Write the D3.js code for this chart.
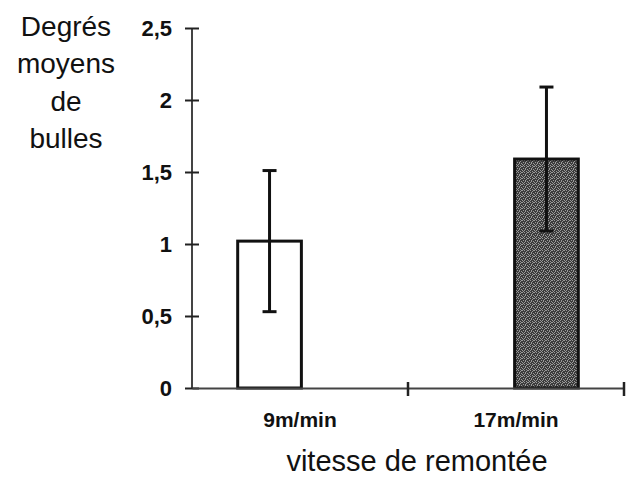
<!DOCTYPE html>
<html>
<head>
<meta charset="utf-8">
<script src="https://cdn.jsdelivr.net/npm/d3@7"></script>
<style>
  body { margin: 0; background: #fff; }
  svg { display: block; }
  text { font-family: "Liberation Sans", Arial, sans-serif; fill: #111; }
</style>
</head>
<body>
<div class="canvas"></div>
<script>
// DATA
const categories = ["9m/min", "17m/min"];
const means = [1.02, 1.59];
const errors = [0.49, 0.5];
const yTicks = [0, 0.5, 1, 1.5, 2, 2.5];
const yTitle = ["Degrés", "moyens", "de", "bulles"];
const xTitle = "vitesse de remontée";

const W = 636, H = 477;
const margins = { top: 28, right: 12, bottom: 89, left: 192 };
const width = W - margins.left - margins.right;
const height = H - margins.top - margins.bottom;

const svg = d3.select(".canvas").append("svg")
  .attr("width", W)
  .attr("height", H);

// grainy fill for the dark bar
const defs = svg.append("defs");
const pat = defs.append("pattern")
  .attr("id", "grain")
  .attr("patternUnits", "userSpaceOnUse")
  .attr("width", 6).attr("height", 6);
pat.append("rect").attr("width", 6).attr("height", 6).attr("fill", "#3c3c3c");
[[0,0],[2,0],[4,1],[1,2],[3,2],[5,3],[0,4],[2,4],[4,5],[1,5],[3,3],[5,0]].forEach(p => {
  pat.append("rect").attr("x", p[0]).attr("y", p[1])
    .attr("width", 1).attr("height", 1).attr("fill", "#9a9a9a");
});

const canvas = svg.append("g")
  .attr("transform", `translate(${margins.left},${margins.top})`);

// SCALES
const xScale = d3.scaleBand().domain(categories).range([0, width]);
const barPos = d3.scalePoint().domain(categories).range([0, width]).padding(0.28);
const barW = barPos.step() * 0.23;
const yScale = d3.scaleLinear().domain([0, 2.5]).range([height, 0]);

// BARS
canvas.selectAll(".bar")
  .data(categories)
  .enter()
  .append("rect")
  .attr("class", "bar")
  .attr("x", d => barPos(d) - barW / 2)
  .attr("y", (d, i) => yScale(means[i]))
  .attr("width", barW)
  .attr("height", (d, i) => height - yScale(means[i]))
  .attr("fill", (d, i) => i === 0 ? "#fff" : "url(#grain)")
  .attr("stroke", "#111")
  .attr("stroke-width", 3);

// ERROR BARS
const errG = canvas.selectAll(".err")
  .data(categories)
  .enter()
  .append("g")
  .attr("class", "err")
  .attr("stroke", "#111")
  .attr("stroke-width", 3);

errG.append("line")
  .attr("x1", d => barPos(d)).attr("x2", d => barPos(d))
  .attr("y1", (d, i) => yScale(means[i] + errors[i]))
  .attr("y2", (d, i) => yScale(means[i] - errors[i]));
errG.append("line")
  .attr("x1", d => barPos(d) - 7).attr("x2", d => barPos(d) + 7)
  .attr("y1", (d, i) => yScale(means[i] + errors[i]))
  .attr("y2", (d, i) => yScale(means[i] + errors[i]));
errG.append("line")
  .attr("x1", d => barPos(d) - 7).attr("x2", d => barPos(d) + 7)
  .attr("y1", (d, i) => yScale(means[i] - errors[i]))
  .attr("y2", (d, i) => yScale(means[i] - errors[i]));

// AXES
const fmt = v => d3.format("")(v).replace(".", ",");
const yAxis = canvas.append("g")
  .call(d3.axisLeft(yScale).tickValues(yTicks).tickFormat(fmt).tickSize(7).tickPadding(13));
yAxis.select(".domain").attr("stroke", "#444").attr("stroke-width", 2).attr("d", `M0,${height}V0`);
yAxis.selectAll(".tick line").attr("x1", 7).attr("stroke", "#222").attr("stroke-width", 2);
yAxis.selectAll(".tick text")
  .style("font-size", "22px")
  .style("font-weight", "bold")
  .attr("dy", "0.36em");

const xAxis = canvas.append("g")
  .attr("transform", `translate(0,${height})`)
  .call(d3.axisBottom(xScale).tickSize(0).tickPadding(24));
xAxis.select(".domain").attr("stroke", "#444").attr("stroke-width", 2);
xAxis.selectAll(".tick text")
  .style("font-size", "21px")
  .style("font-weight", "bold");

// category boundary ticks
const bounds = categories.map(c => xScale(c) + xScale.bandwidth());
xAxis.selectAll(".bound")
  .data(bounds)
  .enter()
  .append("line")
  .attr("class", "bound")
  .attr("x1", d => d).attr("x2", d => d)
  .attr("y1", -6).attr("y2", 8)
  .attr("stroke", "#222")
  .attr("stroke-width", 2.5);

// TITLES
svg.append("text")
  .attr("x", margins.left + width / 2 + 9)
  .attr("y", 471)
  .attr("text-anchor", "middle")
  .style("font-size", "29px")
  .text(xTitle);

svg.append("g").selectAll("text")
  .data(yTitle)
  .enter()
  .append("text")
  .attr("x", 66)
  .attr("y", (d, i) => 36 + i * 37.3)
  .attr("text-anchor", "middle")
  .style("font-size", "28px")
  .text(d => d);
</script>
</body>
</html>
